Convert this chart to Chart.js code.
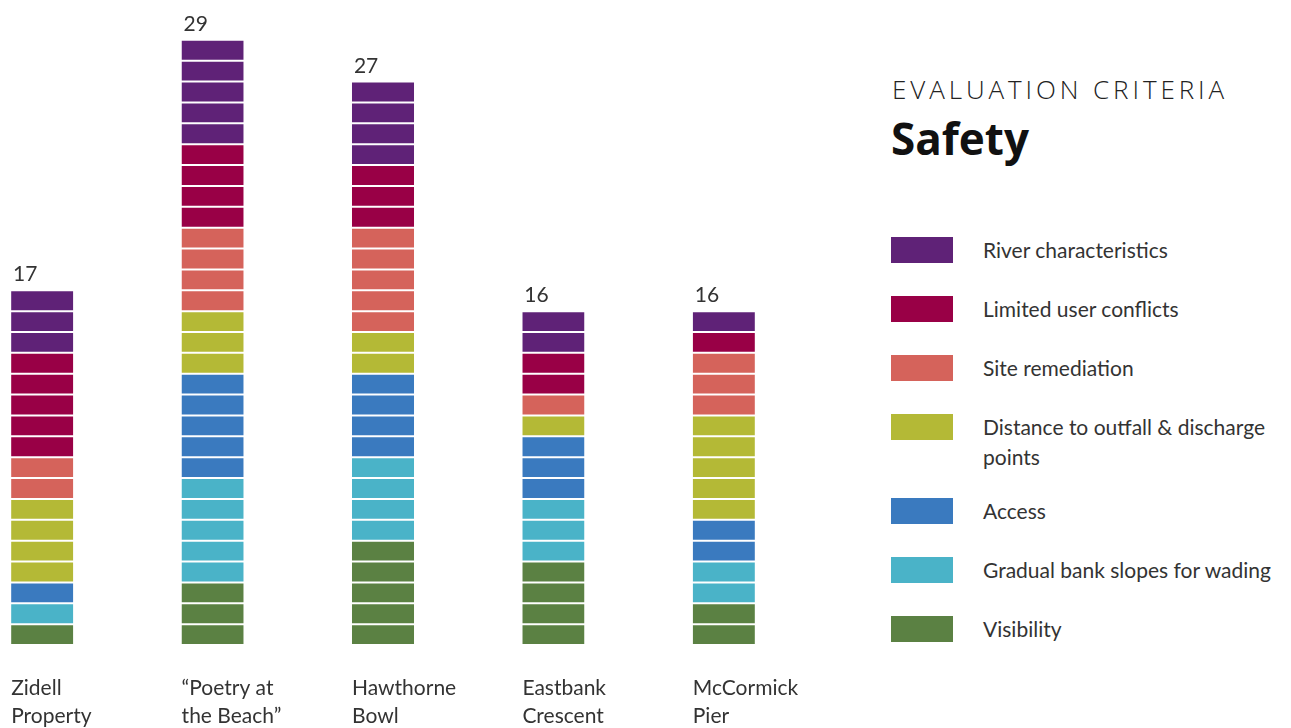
<!DOCTYPE html>
<html>
<head>
<meta charset="utf-8">
<script src="https://cdn.jsdelivr.net/npm/chart.js@4.4.1/dist/chart.umd.min.js"></script>
<style>
  body { margin: 0; width: 1291px; height: 728px; overflow: hidden; background: #fff; position: relative;
         font-family: Lato, "Open Sans", sans-serif; color: #333; }
  #wrap { position: absolute; left: -43px; top: 0; width: 852px; height: 728px; }
  #side { position: absolute; left: 891px; top: 0; width: 400px; height: 728px; }
  .kicker { position: absolute; left: 1px; top: 71px; font-family: "Open Sans", sans-serif; font-weight: 300;
            font-size: 26px; letter-spacing: 3.9px; color: #222; white-space: nowrap; }
  .title { position: absolute; left: 0; top: 108px; font-family: "Open Sans", sans-serif; font-weight: 700;
           font-size: 44px; color: #111; white-space: nowrap; }
  #legend { position: absolute; left: 0; top: 235px; }
  .row { display: flex; align-items: flex-start; margin-bottom: 29px; }
  .row.two { margin-bottom: 24px; }
  .sw { width: 62px; height: 26px; margin-top: 2px; flex: none; }
  .lbl { margin-left: 30px; font-size: 21px; line-height: 30px; width: 300px; color: #333; }
</style>
</head>
<body>
<div id="wrap"><canvas id="chart"></canvas></div>
<div id="side">
  <div class="kicker">EVALUATION CRITERIA</div>
  <div class="title">Safety</div>
  <div id="legend"></div>
</div>
<script>
// sites along the x axis
const categories = [
  ['Zidell', 'Property'],
  ['\u201CPoetry at', 'the Beach\u201D'],
  ['Hawthorne', 'Bowl'],
  ['Eastbank', 'Crescent'],
  ['McCormick', 'Pier']
];

// criteria, in legend order (top of the stack first)
const criteria = [
  'River characteristics',
  'Limited user conflicts',
  'Site remediation',
  'Distance to outfall & discharge points',
  'Access',
  'Gradual bank slopes for wading',
  'Visibility'
];
const criteriaColors = ['#5f2277', '#990046', '#d5635b', '#b4b936', '#3a7abf', '#4ab3c8', '#5b8143'];

// points per site
const riverCharacteristics = [3, 5, 4, 2, 1];
const limitedUserConflicts = [5, 4, 3, 2, 1];
const siteRemediation      = [2, 4, 5, 1, 3];
const distanceToOutfall    = [4, 3, 2, 1, 5];
const access               = [1, 5, 4, 3, 2];
const gradualBankSlopes    = [1, 5, 4, 3, 2];
const visibility           = [1, 3, 5, 4, 2];

const seriesValues = [riverCharacteristics, limitedUserConflicts, siteRemediation,
  distanceToOutfall, access, gradualBankSlopes, visibility];

const BAR_PCT = 0.365;
const FONT = 'Lato, "Open Sans", sans-serif';

// one stacked dataset per point so every point shows as its own block
const datasets = [];
for (let c = criteria.length - 1; c >= 0; c--) {
  const values = seriesValues[c];
  const units = Math.max(...values);
  for (let k = 0; k < units; k++) {
    datasets.push({
      label: criteria[c],
      data: values.map(v => (v > k ? 1 : null)),
      backgroundColor: criteriaColors[c],
      borderColor: '#ffffff',
      borderWidth: { top: 1, bottom: 1, left: 0, right: 0 },
      borderSkipped: false,
      stack: 'score'
    });
  }
}

const totalsLabel = {
  id: 'totalsLabel',
  afterDatasetsDraw(chart) {
    const { ctx, scales: { x, y } } = chart;
    const w = (x.width / categories.length) * BAR_PCT;
    ctx.save();
    ctx.font = '21px ' + FONT;
    ctx.fillStyle = '#333';
    ctx.textAlign = 'left';
    ctx.textBaseline = 'alphabetic';
    categories.forEach((cat, i) => {
      const total = seriesValues.reduce((s, arr) => s + arr[i], 0);
      ctx.fillText(String(total), x.getPixelForValue(i) - w / 2 + 2, y.getPixelForValue(total) - 9);
    });
    ctx.restore();
  }
};

new Chart(document.getElementById('chart'), {
  type: 'bar',
  data: { labels: categories, datasets: datasets },
  options: {
    responsive: true,
    maintainAspectRatio: false,
    animation: false,
    layout: { padding: { top: 19, left: 0, right: 0, bottom: 0 } },
    datasets: { bar: { barPercentage: BAR_PCT, categoryPercentage: 1 } },
    plugins: { legend: { display: false }, tooltip: { enabled: false } },
    scales: {
      x: {
        stacked: true,
        grid: { display: false, drawTicks: false },
        border: { display: false },
        ticks: {
          align: 'start',
          labelOffset: -31,
          padding: 29,
          color: '#333',
          font: { family: FONT, size: 21, lineHeight: 1.35 }
        },
        afterFit(scale) {
          scale.height = 83;
          scale.paddingLeft = 0;
          scale.paddingRight = 0;
        }
      },
      y: { stacked: true, display: false, min: 0, max: 30 }
    }
  },
  plugins: [totalsLabel]
});

// legend on the right
const legend = document.getElementById('legend');
criteria.forEach((name, i) => {
  const row = document.createElement('div');
  row.className = 'row' + (name.length > 32 ? ' two' : '');
  const sw = document.createElement('div');
  sw.className = 'sw';
  sw.style.background = criteriaColors[i];
  const lbl = document.createElement('div');
  lbl.className = 'lbl';
  lbl.textContent = name;
  row.appendChild(sw);
  row.appendChild(lbl);
  legend.appendChild(row);
});
</script>
</body>
</html>
